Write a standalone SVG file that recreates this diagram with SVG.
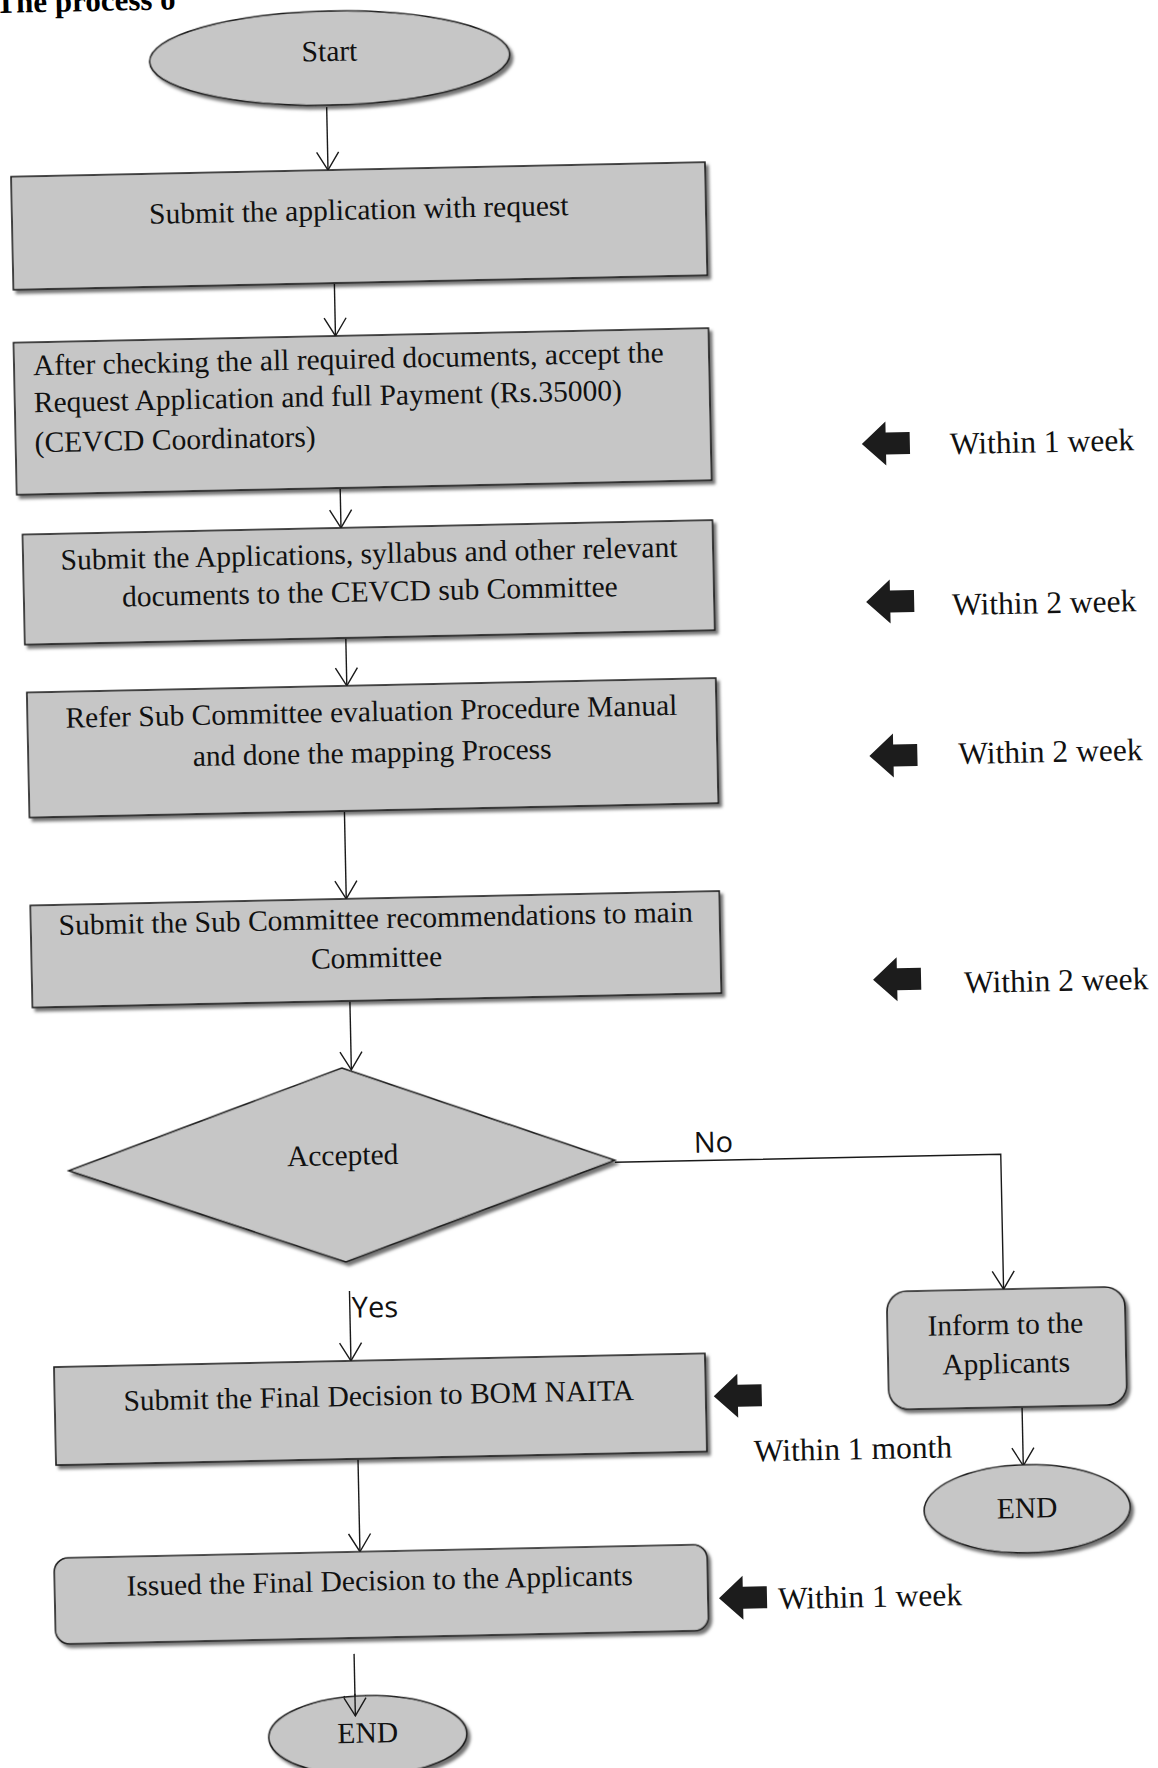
<svg xmlns="http://www.w3.org/2000/svg" width="1158" height="1768" viewBox="0 0 1158 1768">
<style>
.box{fill:#c6c6c6;stroke:#1a1a1a;stroke-width:1.6;filter:url(#sh)}
.t{font-family:"Liberation Serif","Times New Roman",serif;font-size:29.5px;fill:#111}
.c{text-anchor:middle}
.lab{font-family:"Liberation Serif","Times New Roman",serif;font-size:31.5px;fill:#111;text-anchor:middle}
.yn{font-family:"Open Sans","Liberation Sans",sans-serif;font-size:29px;fill:#111}
.ln{fill:none;stroke:#1a1a1a;stroke-width:1.4}
.blk{fill:#1c1c1c}
</style>
<defs>
<filter id="sh" x="-5%" y="-5%" width="115%" height="125%">
<feDropShadow dx="3" dy="3.5" stdDeviation="1.6" flood-color="#000" flood-opacity="0.55"/>
</filter>
<marker id="ah" viewBox="0 0 20 24" markerWidth="20" markerHeight="24" refX="19" refY="12" orient="auto" markerUnits="userSpaceOnUse">
<path d="M1,1 L19,12 L1,23" fill="none" stroke="#1a1a1a" stroke-width="1.4"/>
</marker>
<path id="barrow" d="M-24,0 L0,-22 L0,-11 L24,-11 L24,11 L0,11 L0,22 Z"/>
</defs>
<rect width="1158" height="1768" fill="#ffffff"/>
<g transform="rotate(-1.2 579 884)">
<text x="14" y="1" font-family="'Liberation Serif',serif" font-weight="bold" font-size="31">The process o</text>

<g id="connectors">
<line class="ln" x1="343" y1="102" x2="343" y2="165" marker-end="url(#ah)"/>
<line class="ln" x1="347" y1="279" x2="347" y2="331" marker-end="url(#ah)"/>
<line class="ln" x1="348.5" y1="484" x2="348.5" y2="523" marker-end="url(#ah)"/>
<line class="ln" x1="351" y1="634" x2="351" y2="681" marker-end="url(#ah)"/>
<line class="ln" x1="346" y1="807" x2="346" y2="894" marker-end="url(#ah)"/>
<line class="ln" x1="347.5" y1="997" x2="347.5" y2="1065" marker-end="url(#ah)"/>
<polyline class="ln" points="609,1163 995,1163 995,1298" marker-end="url(#ah)"/>
<text class="yn" x="708" y="1155" text-anchor="middle">No</text>
<line class="ln" x1="341" y1="1286" x2="341" y2="1356" marker-end="url(#ah)"/>
<text class="yn" x="343" y="1313">Yes</text>
<line class="ln" x1="346" y1="1455" x2="346" y2="1547" marker-end="url(#ah)"/>
<line class="ln" x1="1011" y1="1417" x2="1011" y2="1475" marker-end="url(#ah)"/>
</g>

<g id="n-start">
<ellipse class="box" cx="347" cy="53" rx="180" ry="47"/>
<text class="t c" x="347" y="56">Start</text>
</g>
<g id="n-submit">
<rect class="box" x="26" y="165" width="694" height="113"/>
<text class="t c" x="373" y="215">Submit the application with request</text>
</g>
<g id="n-check">
<rect class="box" x="25" y="331" width="695" height="152"/>
<text class="t" x="44" y="364">After checking the all required documents, accept the</text>
<text class="t" x="44" y="401">Request Application and full Payment (Rs.35000)</text>
<text class="t" x="44" y="441">(CEVCD Coordinators)</text>
</g>
<g id="n-subcommittee">
<rect class="box" x="30" y="523" width="690" height="110"/>
<text class="t c" x="376" y="559">Submit the Applications, syllabus and other relevant</text>
<text class="t c" x="376" y="597">documents to the CEVCD sub Committee</text>
</g>
<g id="n-refer">
<rect class="box" x="31" y="681" width="689" height="125"/>
<text class="t c" x="375" y="717">Refer Sub Committee evaluation Procedure Manual</text>
<text class="t c" x="375" y="758">and done the mapping Process</text>
</g>
<g id="n-recommend">
<rect class="box" x="30" y="894" width="689" height="102"/>
<text class="t c" x="375" y="924">Submit the Sub Committee recommendations to main</text>
<text class="t c" x="375" y="963">Committee</text>
</g>
<g id="n-accepted">
<polygon class="box" points="338,1063 609,1161 338,1257 63,1160"/>
<text class="t c" x="337" y="1160">Accepted</text>
</g>
<g id="n-inform">
<rect class="box" x="878" y="1298" width="238" height="118" rx="20"/>
<text class="t c" x="996" y="1343">Inform to the</text>
<text class="t c" x="996" y="1382">Applicants</text>
</g>
<g id="n-end-right">
<ellipse class="box" cx="1014" cy="1518" rx="103" ry="44"/>
<text class="t c" x="1014" y="1527">END</text>
</g>
<g id="n-bom">
<rect class="box" x="44" y="1356" width="651" height="98"/>
<text class="t c" x="368" y="1401">Submit the Final Decision to BOM NAITA</text>
</g>
<g id="n-issued">
<rect class="box" x="40" y="1547" width="653" height="86" rx="14"/>
<text class="t c" x="365" y="1586">Issued the Final Decision to the Applicants</text>
</g>
<line class="ln" x1="338" y1="1649" x2="338" y2="1709" marker-end="url(#ah)"/>
<g id="n-end-bottom">
<ellipse class="box" cx="350" cy="1731" rx="99" ry="40"/>
<text class="t c" x="350" y="1738">END</text>
</g>
<line class="ln" x1="338" y1="1689" x2="338" y2="1711" marker-end="url(#ah)"/>

<g id="timings">
<use href="#barrow" class="blk" x="895" y="450"/>
<text class="lab" x="1051" y="462">Within 1 week</text>
<use href="#barrow" class="blk" x="896" y="608"/>
<text class="lab" x="1050" y="623">Within 2 week</text>
<use href="#barrow" class="blk" x="896" y="762"/>
<text class="lab" x="1053" y="772">Within 2 week</text>
<use href="#barrow" class="blk" x="895" y="986"/>
<text class="lab" x="1054" y="1001">Within 2 week</text>
<use href="#barrow" class="blk" x="727" y="1399"/>
<text class="lab" x="841" y="1465" font-size="30">Within 1 month</text>
<use href="#barrow" class="blk" x="728" y="1601"/>
<text class="lab" x="855" y="1613" font-size="30">Within 1 week</text>
</g>
</g>
</svg>
